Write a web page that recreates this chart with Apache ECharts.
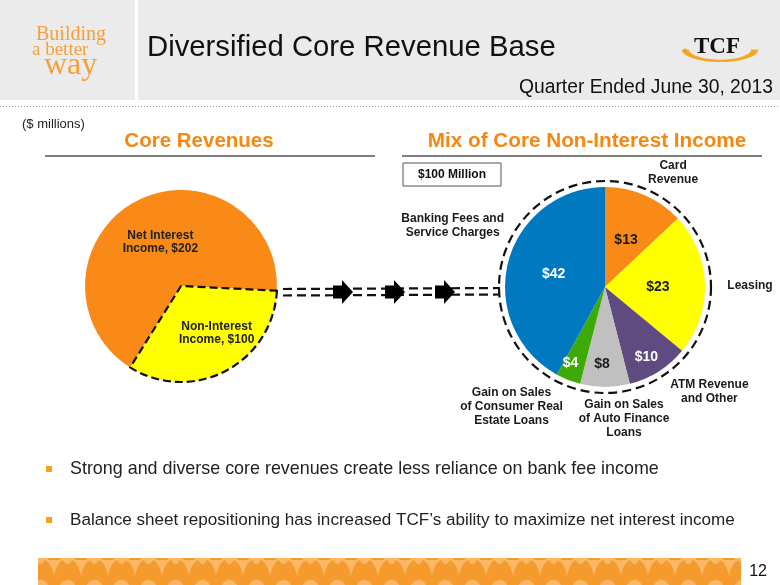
<!DOCTYPE html>
<html><head><meta charset="utf-8">
<script src="https://cdn.jsdelivr.net/npm/echarts@6/dist/echarts.min.js"></script>
<style>html,body{margin:0;padding:0;background:#fff}#c{width:780px;height:585px}</style>
</head><body><div id="c"></div>
<script>
// ---- data ----
const coreCategories = ['Net Interest\nIncome', 'Non-Interest\nIncome'];
const coreValues = [202, 100];
const mixCategories = ['Card\nRevenue', 'Leasing', 'ATM Revenue\nand Other', 'Gain on Sales\nof Auto Finance\nLoans', 'Gain on Sales\nof Consumer Real\nEstate Loans', 'Banking Fees and\nService Charges'];
const mixValues = [13, 23, 10, 8, 4, 42];
const bulletTexts = ['Strong and diverse core revenues create less reliance on bank fee income', 'Balance sheet repositioning has increased TCF\u2019s ability to maximize net interest income'];

// ---- styles ----
const coreColors = ['#F98A17', '#FFFF00'];
const coreLabelOffsets = [[3, 1], [12, 2]];
const mixColors = ['#F98A17', '#FFFF00', '#5F4B80', '#C0C0C0', '#3DAA06', '#0079C1'];
const mixValueColors = ['#1a1a1a', '#1a1a1a', '#ffffff', '#1a1a1a', '#ffffff', '#ffffff'];
const mixValueOffsets = [[0, 2], [0, 2], [13, 25], [-3, 24], [-15, 27], [0, 0]];
const mixNameOffsets = [[47, -66], [92, 0], [76, 60], [19, 79], [-74, 70], [-101, -48]];
const SANS = '"Liberation Sans", Arial, sans-serif';
const SERIF = '"Liberation Serif", "Times New Roman", serif';
const leftC = [181, 286], leftR = 96;
const rightC = [605, 287], rightR = 100;

// bottom band pattern
function makePattern() {
  const cv = document.createElement('canvas');
  cv.width = 27; cv.height = 28;
  const g = cv.getContext('2d');
  g.fillStyle = '#F59B2E'; g.fillRect(0, 0, 27, 28);
  g.fillStyle = '#FBB765';
  g.beginPath(); g.arc(13.5, 28, 8, Math.PI, 0); g.closePath(); g.fill();
  [0, 27].forEach(function (x) {
    g.beginPath();
    g.moveTo(x - 9, 0);
    g.quadraticCurveTo(x - 2, 4, x, 16);
    g.quadraticCurveTo(x + 2, 4, x + 9, 0);
    g.closePath(); g.fill();
  });
  g.beginPath(); g.moveTo(9, 0); g.quadraticCurveTo(13.5, 8, 18, 0); g.closePath(); g.fill();
  return cv;
}

function arrow(x0, yc) {
  return { type: 'polygon', shape: { points: [[x0, yc - 6.5], [x0 + 9, yc - 6.5], [x0 + 9, yc - 12], [x0 + 20, yc], [x0 + 9, yc + 12], [x0 + 9, yc + 6.5], [x0, yc + 6.5]] }, style: { fill: '#000' }, z: 5 };
}

const graphics = [
  { type: 'rect', shape: { x: 0, y: 0, width: 780, height: 100 }, style: { fill: '#EBEBEB' }, z: -10 },
  { type: 'rect', shape: { x: 135, y: 0, width: 3, height: 100 }, style: { fill: '#ffffff' }, z: -9 },
  { type: 'line', shape: { x1: 0, y1: 106.5, x2: 780, y2: 106.5 }, style: { stroke: '#9a9a9a', lineWidth: 1, lineDash: [1, 2] } },
  // Building a better way
  { type: 'text', style: { x: 36, y: 35, text: 'Building', font: '20px ' + SERIF, fill: '#F6A03A', verticalAlign: 'middle' } },
  { type: 'text', style: { x: 32, y: 50, text: 'a better', font: '19px ' + SERIF, fill: '#F6A03A', verticalAlign: 'middle' } },
  { type: 'text', style: { x: 44, y: 66, text: 'way', font: '32px ' + SERIF, fill: '#F6A03A', verticalAlign: 'middle' } },
  // Title
  { type: 'text', style: { x: 147, y: 48, text: 'Diversified Core Revenue Base', font: '29.3px ' + SANS, fill: '#111', verticalAlign: 'middle' } },
  // TCF logo
  { type: 'arc', x: 720, y: 49, scaleY: 0.34, shape: { cx: 0, cy: 0, r: 35, startAngle: 0.05, endAngle: Math.PI - 0.05, clockwise: true }, style: { stroke: '#F6A623', lineWidth: 7, fill: 'none' } },
  { type: 'circle', shape: { cx: 685, cy: 50, r: 1.6 }, style: { fill: '#F39A1E' } },
  { type: 'text', style: { x: 717, y: 47, text: 'TCF', font: 'bold 23px ' + SERIF, fill: '#111', align: 'center', verticalAlign: 'middle' } },
  { type: 'text', style: { x: 773, y: 88, text: 'Quarter Ended June 30, 2013', font: '19.3px ' + SANS, fill: '#111', align: 'right', verticalAlign: 'middle' } },
  // section headings
  { type: 'text', style: { x: 22, y: 124, text: '($ millions)', font: '13px ' + SANS, fill: '#222', verticalAlign: 'middle' } },
  { type: 'text', style: { x: 199, y: 141, text: 'Core Revenues', font: 'bold 20.5px ' + SANS, fill: '#F7870F', align: 'center', verticalAlign: 'middle' } },
  { type: 'text', style: { x: 587, y: 141, text: 'Mix of Core Non-Interest Income', font: 'bold 20.7px ' + SANS, fill: '#F7870F', align: 'center', verticalAlign: 'middle' } },
  { type: 'line', shape: { x1: 45, y1: 156, x2: 375, y2: 156 }, style: { stroke: '#555', lineWidth: 1.5 } },
  { type: 'line', shape: { x1: 402, y1: 156, x2: 762, y2: 156 }, style: { stroke: '#555', lineWidth: 1.5 } },
  // $100 Million box
  { type: 'rect', shape: { x: 403, y: 163, width: 98, height: 23 }, style: { fill: '#fff', stroke: '#555', lineWidth: 1 } },
  { type: 'text', style: { x: 452, y: 175, text: '$100 Million', font: 'bold 12px ' + SANS, fill: '#111', align: 'center', verticalAlign: 'middle' } },
  // dashed circle round right pie
  { type: 'circle', shape: { cx: rightC[0], cy: rightC[1], r: 106 }, style: { fill: 'none', stroke: '#111', lineWidth: 2.2, lineDash: [9, 5] }, z: -1 },
  // connector dashes and arrows
  { type: 'line', shape: { x1: 283, y1: 289, x2: 500, y2: 288 }, style: { stroke: '#111', lineWidth: 2.2, lineDash: [9, 5] } },
  { type: 'line', shape: { x1: 283, y1: 295.5, x2: 500, y2: 294.5 }, style: { stroke: '#111', lineWidth: 2.2, lineDash: [9, 5] } },
  arrow(333, 292), arrow(385, 292), arrow(435, 292),
  // bullets
  { type: 'rect', shape: { x: 46, y: 466, width: 6, height: 6 }, style: { fill: '#F7A01E' } },
  { type: 'rect', shape: { x: 46, y: 517, width: 6, height: 6 }, style: { fill: '#F7A01E' } },
  { type: 'text', style: { x: 70, y: 469, text: bulletTexts[0], font: '17.9px ' + SANS, fill: '#222', verticalAlign: 'middle' } },
  { type: 'text', style: { x: 70, y: 520, text: bulletTexts[1], font: '17.1px ' + SANS, fill: '#222', verticalAlign: 'middle' } },
  // bottom band
  { type: 'rect', shape: { x: 38, y: 558, width: 703, height: 27 }, style: { fill: { image: makePattern(), repeat: 'repeat' } } },
  { type: 'text', style: { x: 767, y: 572, text: '12', font: '16px ' + SANS, fill: '#111', align: 'right', verticalAlign: 'middle' } }
];

const chart = echarts.init(document.getElementById('c'), null, { renderer: 'canvas' });
chart.setOption({
  animation: false,
  graphic: graphics,
  series: [
    {
      type: 'pie', center: leftC, radius: leftR, startAngle: 238, clockwise: true,
      silent: true,
      data: coreCategories.map(function (n, i) {
        return {
          name: n, value: coreValues[i],
          itemStyle: i === 1 ? { color: coreColors[i], borderColor: '#111', borderWidth: 2.2, borderType: [8, 4] } : { color: coreColors[i] },
          label: { offset: coreLabelOffsets[i] }
        };
      }),
      label: { show: true, position: 'inside', formatter: function (p) { return p.name + ', $' + p.value; }, fontFamily: SANS, fontWeight: 'bold', fontSize: 12, lineHeight: 13, color: '#222' },
      labelLine: { show: false }
    },
    {
      type: 'pie', center: rightC, radius: rightR, startAngle: 90, clockwise: true,
      silent: true,
      data: mixCategories.map(function (n, i) {
        return { name: n, value: mixValues[i], itemStyle: { color: mixColors[i] }, label: { color: mixValueColors[i], offset: mixValueOffsets[i] } };
      }),
      label: { show: true, position: 'inside', formatter: function (p) { return '$' + p.value; }, fontFamily: SANS, fontWeight: 'bold', fontSize: 14 },
      labelLine: { show: false }
    },
    {
      type: 'pie', center: rightC, radius: rightR, startAngle: 90, clockwise: true,
      silent: true, z: 3,
      data: mixCategories.map(function (n, i) {
        return { name: n, value: mixValues[i], itemStyle: { color: 'rgba(0,0,0,0)' }, label: { offset: mixNameOffsets[i] } };
      }),
      label: { show: true, position: 'inside', formatter: '{b}', fontFamily: SANS, fontWeight: 'bold', fontSize: 12, lineHeight: 14, color: '#1a1a1a', align: 'center' },
      labelLine: { show: false }
    }
  ]
});
</script></body></html>
